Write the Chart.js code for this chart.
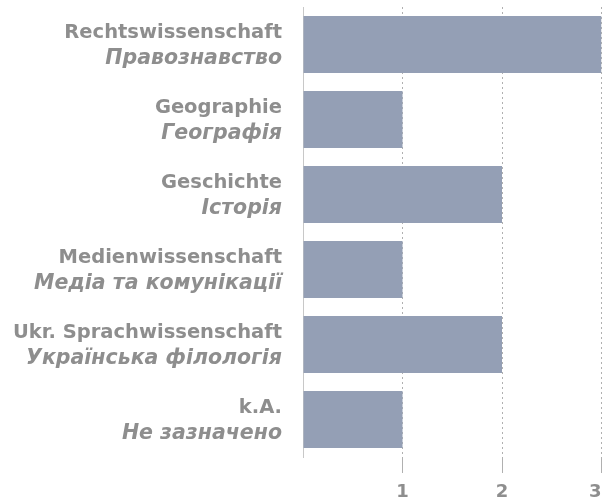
<!DOCTYPE html>
<html>
<head>
<meta charset="utf-8">
<script src="https://cdn.jsdelivr.net/npm/chart.js@4/dist/chart.umd.min.js"></script>
<style>
  html, body { margin: 0; padding: 0; background: #fff; overflow: hidden; }
  canvas { display: block; }
</style>
</head>
<body>
<canvas id="faecher" width="612" height="503"></canvas>
<script>
// categories (German / Ukrainian)
let labels_de = ["Rechtswissenschaft", "Geographie", "Geschichte", "Medienwissenschaft", "Ukr. Sprachwissenschaft", "k.A."];
let labels_ua = ["Правознавство", "Географія", "Історія", "Медіа та комунікації", "Українська філологія", "Не зазначено"];
let counts = [3, 1, 2, 1, 2, 1];
let x_ticks = [1, 2, 3];

const grey = "#8e8e8e";
const font = "'DejaVu Sans', sans-serif";

// two-line labels, second line italic
const twoLineLabels = {
  id: "twoLineLabels",
  afterDraw(chart) {
    let ctx = chart.ctx;
    let y = chart.scales.y;
    let right = chart.chartArea.left - 21;
    ctx.save();
    ctx.fillStyle = grey;
    ctx.textAlign = "right";
    ctx.textBaseline = "alphabetic";
    labels_de.forEach((l, i) => {
      let cy = y.getPixelForValue(i);
      ctx.font = "bold 19.5px " + font;
      ctx.fillText(l, right, cy - 6.8);
      ctx.font = "italic bold 20.5px " + font;
      ctx.fillText(labels_ua[i], right, cy + 19.5);
    });
    ctx.restore();
  }
};

let chart = document.querySelector("#faecher");
new Chart(chart, {
  type: 'bar',
  data: {
    labels: labels_de,
    datasets: [
      {
        data: counts,
        backgroundColor: "#949fb5",
        borderWidth: 0,
        barPercentage: 0.76,
        categoryPercentage: 1
      }
    ]
  },
  options: {
    indexAxis: 'y',
    responsive: false,
    animation: false,
    layout: { padding: { top: 7, left: 0, right: 10.5, bottom: 0 } },
    plugins: { legend: { display: false }, tooltip: { enabled: false } },
    scales: {
      x: {
        min: 0,
        max: 3,
        afterBuildTicks: (s) => { s.ticks = [0].concat(x_ticks).map(v => ({ value: v })); },
        afterFit: (s) => { s.paddingRight = 0; s.height = 46; },
        border: { display: false, dash: [2, 3] },
        grid: {
          color: (c) => c.tick && c.tick.value === 0 ? "rgba(0,0,0,0)" : "#b0b0b0",
          lineWidth: 1,
          tickLength: 16
        },
        ticks: {
          color: grey,
          align: 'inner',
          font: { family: font, size: 18, weight: "bold" },
          padding: 9,
          callback: (v) => v === 0 ? "" : v
        }
      },
      y: {
        afterFit: (s) => { s.width = 303; },
        grid: { display: false },
        border: { display: true, color: "#c8c8c8", width: 1 },
        ticks: { display: false }
      }
    }
  },
  plugins: [twoLineLabels]
});
</script>
</body>
</html>
